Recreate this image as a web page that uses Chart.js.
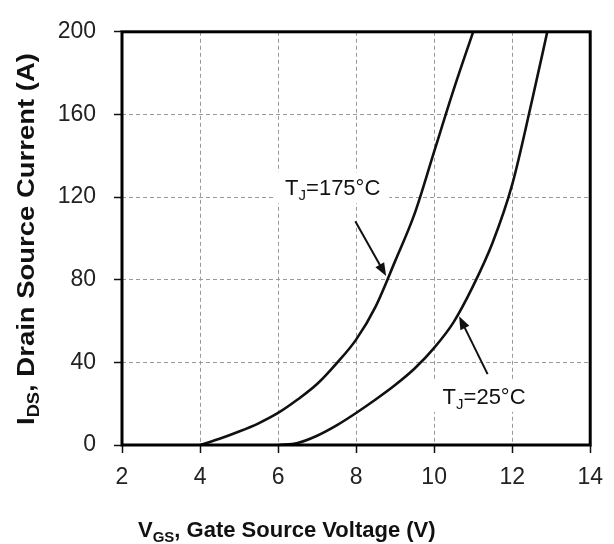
<!DOCTYPE html>
<html>
<head>
<meta charset="utf-8">
<script src="https://cdn.jsdelivr.net/npm/chart.js@4.4.1/dist/chart.umd.min.js"></script>
<style>
  html, body { margin: 0; padding: 0; background: #fff; }
  #wrap { width: 614px; height: 544px; }
</style>
</head>
<body>
<div id="wrap"><canvas id="chart" width="614" height="544"></canvas></div>
<script>
// Transfer characteristic, values
const vgsHot = [4, 4.5, 5, 5.5, 6, 6.5, 7, 7.5, 8, 8.5, 9, 9.5, 10, 10.5, 11];
const idsHot = [0, 3, 6.5, 10.5, 15.5, 22, 29.5, 39.5, 51, 67, 89, 112, 142, 172, 200];

const vgsCold = [6, 6.5, 7, 7.5, 8, 8.5, 9, 9.5, 10, 10.5, 11, 11.5, 12, 12.5, 12.9];
const idsCold = [0, 1, 4.5, 9.5, 15.5, 22, 29, 37, 47, 59.5, 77, 98, 126, 166, 200];

const xTicks = [2, 4, 6, 8, 10, 12, 14];
const yTicks = [0, 40, 80, 120, 160, 200];

// curve labels (data coords) and their arrows
const noteTemp = ['175°C', '25°C'];
const noteX = [7.4, 11.28];
const noteY = [124.8, 23.8];
const arrowFromX = [7.98, 11.37];
const arrowFromY = [108.3, 34.3];
const arrowToX = [8.77, 10.64];
const arrowToY = [81.8, 62.3];

const FONT = '"Liberation Sans", Arial, Helvetica, sans-serif';

function toPoints(xs, ys) {
    return xs.map((x, i) => ({ x: x, y: ys[i] }));
}

// draws text parts, some as subscripts, returns total width
function drawRich(ctx, parts, x, y, size, bold, dryRun) {
    let cx = x;
    parts.forEach(p => {
        const s = p.sub ? Math.round(size * 0.68) : size;
        ctx.font = (bold ? 'bold ' : '') + s + 'px ' + FONT;
        if (!dryRun) ctx.fillText(p.t, cx, p.sub ? y + size * 0.22 : y);
        cx += ctx.measureText(p.t).width;
    });
    return cx - x;
}

function drawArrow(ctx, x1, y1, x2, y2) {
    const ang = Math.atan2(y2 - y1, x2 - x1);
    const len = 13, half = 5;
    ctx.beginPath();
    ctx.moveTo(x1, y1);
    ctx.lineTo(x2 - Math.cos(ang) * len * 0.8, y2 - Math.sin(ang) * len * 0.8);
    ctx.lineWidth = 2;
    ctx.strokeStyle = '#111';
    ctx.stroke();
    ctx.beginPath();
    ctx.moveTo(x2, y2);
    ctx.lineTo(x2 - Math.cos(ang) * len - Math.sin(ang) * half, y2 - Math.sin(ang) * len + Math.cos(ang) * half);
    ctx.lineTo(x2 - Math.cos(ang) * len + Math.sin(ang) * half, y2 - Math.sin(ang) * len - Math.cos(ang) * half);
    ctx.closePath();
    ctx.fillStyle = '#111';
    ctx.fill();
}

const notesPlugin = {
    id: 'notes',
    afterDatasetsDraw(chart) {
        const ctx = chart.ctx;
        const xs = chart.scales.x, ys = chart.scales.y;
        ctx.save();
        noteTemp.forEach((temp, i) => {
            const parts = [{ t: 'T' }, { t: 'J', sub: true }, { t: '=' + temp }];
            const cx = xs.getPixelForValue(noteX[i]);
            const cy = ys.getPixelForValue(noteY[i]);
            ctx.textBaseline = 'alphabetic';
            const w = drawRich(ctx, parts, 0, 0, 22, false, true);
            ctx.fillStyle = '#fff';
            ctx.fillRect(cx - w / 2 - 9, cy - 15, w + 18, 31);
            ctx.fillStyle = '#111';
            drawRich(ctx, parts, cx - w / 2, cy + 8, 22, false, false);
            drawArrow(ctx,
                xs.getPixelForValue(arrowFromX[i]), ys.getPixelForValue(arrowFromY[i]),
                xs.getPixelForValue(arrowToX[i]), ys.getPixelForValue(arrowToY[i]));
        });
        ctx.restore();
    },
    afterDraw(chart) {
        const ctx = chart.ctx;
        const a = chart.chartArea;
        ctx.save();
        // heavy frame round the plot
        ctx.lineWidth = 3;
        ctx.strokeStyle = '#000';
        ctx.strokeRect(a.left, a.top, a.right - a.left, a.bottom - a.top);

        ctx.fillStyle = '#111';
        ctx.textBaseline = 'alphabetic';
        // x title
        const xParts = [{ t: 'V' }, { t: 'GS', sub: true }, { t: ', Gate Source Voltage (V)' }];
        drawRich(ctx, xParts, 138, 537, 22, true, false);

        // y title, stretched along its length to fit the plot height
        const yParts = [{ t: 'I' }, { t: 'DS', sub: true }, { t: ', Drain Source Current (A)' }];
        const natural = drawRich(ctx, yParts, 0, 0, 24, true, true);
        ctx.translate(34, 425);
        ctx.rotate(-Math.PI / 2);
        ctx.scale(372 / natural, 1);
        drawRich(ctx, yParts, 0, 0, 24, true, false);
        ctx.restore();
    }
};

new Chart(document.getElementById('chart'), {
    type: 'scatter',
    data: {
        datasets: [
            {
                label: 'TJ=175°C',
                data: toPoints(vgsHot, idsHot),
                showLine: true,
                borderColor: '#111',
                borderWidth: 2.6,
                pointRadius: 0,
                cubicInterpolationMode: 'monotone'
            },
            {
                label: 'TJ=25°C',
                data: toPoints(vgsCold, idsCold),
                showLine: true,
                borderColor: '#111',
                borderWidth: 2.6,
                pointRadius: 0,
                cubicInterpolationMode: 'monotone'
            }
        ]
    },
    options: {
        responsive: false,
        animation: false,
        layout: { padding: { top: 17, right: 23, left: 0, bottom: 0 } },
        plugins: {
            legend: { display: false },
            tooltip: { enabled: false }
        },
        scales: {
            x: {
                type: 'linear',
                min: 2,
                max: 14,
                afterBuildTicks: s => { s.ticks = xTicks.map(v => ({ value: v })); },
                afterFit: s => { s.height = 99; },
                grid: {
                    color: '#9a9a9a',
                    lineWidth: 1,
                    tickLength: 8,
                    tickColor: '#111',
                    tickWidth: 1.5,
                    tickBorderDash: []
                },
                border: { display: false, dash: [4, 3] },
                ticks: {
                    color: '#222',
                    padding: 11,
                    font: { family: FONT, size: 23 }
                }
            },
            y: {
                type: 'linear',
                min: 0,
                max: 200,
                afterBuildTicks: s => { s.ticks = yTicks.map(v => ({ value: v })); },
                afterFit: s => { s.width = 122; },
                grid: {
                    color: '#9a9a9a',
                    lineWidth: 1,
                    tickLength: 8,
                    tickColor: '#111',
                    tickWidth: 1.5,
                    tickBorderDash: []
                },
                border: { display: false, dash: [4, 3] },
                ticks: {
                    color: '#222',
                    padding: 18,
                    font: { family: FONT, size: 23 }
                }
            }
        }
    },
    plugins: [notesPlugin]
});
</script>
</body>
</html>
